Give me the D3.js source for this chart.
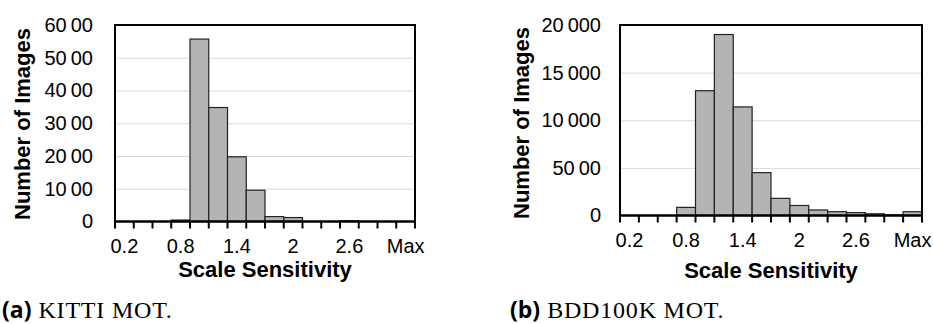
<!DOCTYPE html>
<html>
<head>
<meta charset="utf-8">
<script src="https://cdn.jsdelivr.net/npm/d3@7"></script>
<style>
  body { margin: 0; background: #fff; }
  svg { display: block; }
  .tick text { font-family: 'Liberation Sans', Arial, sans-serif; font-size: 20px; fill: #000; }
  .axis-title { font-family: 'Liberation Sans', Arial, sans-serif; font-size: 22px; font-weight: bold; }
  .caption { font-size: 24px; }
</style>
</head>
<body>
<div id="chart"></div>
<script>
const width = 933;
const height = 324;

// bins of scale sensitivity (shared by both panels)
const categories = ['0.2', '0.4', '0.6', '0.8', '1', '1.2', '1.4', '1.6', '1.8', '2', '2.2', '2.4', '2.6', '2.8', '3', 'Max'];
const shownLabels = ['0.2', '0.8', '1.4', '2', '2.6', 'Max'];

// number of images per bin
const kittiCounts = [0, 0, 0, 45, 5570, 3480, 1975, 955, 150, 120, 0, 0, 20, 0, 0, 0];
const bddCounts = [0, 0, 0, 850, 13100, 19000, 11400, 4500, 1800, 1050, 580, 400, 300, 180, 60, 400];

// y ticks and how they are printed in the figure
const kittiTicks = [0, 1000, 2000, 3000, 4000, 5000, 6000];
const kittiTickLabels = ['0', '10\u200900', '20\u200900', '30\u200900', '40\u200900', '50\u200900', '60\u200900'];
const bddTicks = [0, 5000, 10000, 15000, 20000];
const bddTickLabels = ['0', '50\u200900', '10\u2009000', '15\u2009000', '20\u2009000'];

const barColor = '#b4b4b4';
const gridColor = '#d9d9d9';

const svg = d3
  .select('#chart')
  .append('svg')
  .attr('width', width)
  .attr('height', height);

const drawPanel = (opts) => {
  const { left, right, top, bottom, counts, ticks, tickLabels, labelPad, yTitleX, yTitleY, xTitleY } = opts;
  const g = svg.append('g');

  const xScale = d3.scaleBand().domain(categories).range([left, right]).padding(0);
  const yScale = d3.scaleLinear().domain([0, d3.max(ticks)]).range([bottom, top]);

  // gridlines
  g.append('g')
    .attr('transform', `translate(${left},0)`)
    .call(d3.axisLeft(yScale).tickValues(ticks.slice(1, -1)).tickSize(-(right - left)).tickFormat(''))
    .call((s) => s.select('.domain').remove())
    .call((s) => s.selectAll('line').attr('stroke', gridColor).attr('stroke-width', 1));

  // bars
  g.append('g')
    .selectAll('rect')
    .data(counts)
    .enter()
    .append('rect')
    .attr('x', (d, i) => xScale(categories[i]))
    .attr('y', (d) => yScale(d))
    .attr('width', xScale.bandwidth())
    .attr('height', (d) => yScale(0) - yScale(d))
    .attr('fill', barColor)
    .attr('stroke', (d) => (d > 0 ? '#222' : 'none'))
    .attr('stroke-width', 1.2);

  // frame: left, top, right
  g.append('path')
    .attr('d', `M${left},${bottom}V${top}H${right}V${bottom}`)
    .attr('fill', 'none')
    .attr('stroke', '#000')
    .attr('stroke-width', 2);

  // y axis labels
  g.append('g')
    .attr('transform', `translate(${left},0)`)
    .call(
      d3.axisLeft(yScale)
        .tickValues(ticks)
        .tickSize(0)
        .tickPadding(labelPad)
        .tickFormat((d, i) => tickLabels[i])
    )
    .call((s) => s.select('.domain').remove());

  // x axis: labels centred on every third bin
  g.append('g')
    .attr('transform', `translate(0,${bottom})`)
    .call(
      d3.axisBottom(xScale)
        .tickValues(shownLabels)
        .tickSize(0)
        .tickPadding(17)
    )
    .call((s) => s.select('.domain').remove());

  // tick marks between bins
  const edges = categories.map((c) => xScale(c)).concat([right]);
  g.append('g')
    .selectAll('line')
    .data(edges)
    .enter()
    .append('line')
    .attr('x1', (d) => d)
    .attr('x2', (d) => d)
    .attr('y1', bottom)
    .attr('y2', bottom + 7)
    .attr('stroke', '#000')
    .attr('stroke-width', 2);

  g.append('line')
    .attr('x1', left - 1)
    .attr('x2', right + 1)
    .attr('y1', bottom)
    .attr('y2', bottom)
    .attr('stroke', '#000')
    .attr('stroke-width', 2.5);

  // titles
  g.append('text')
    .attr('class', 'axis-title')
    .attr('x', (left + right) / 2)
    .attr('y', xTitleY)
    .attr('text-anchor', 'middle')
    .text('Scale Sensitivity');

  g.append('text')
    .attr('class', 'axis-title')
    .attr('transform', `translate(${yTitleX},${yTitleY}) rotate(-90)`)
    .attr('text-anchor', 'middle')
    .text('Number of Images');
};

drawPanel({
  left: 115, right: 415, top: 25, bottom: 221.5,
  counts: kittiCounts, ticks: kittiTicks, tickLabels: kittiTickLabels, labelPad: 22,
  yTitleX: 30, yTitleY: 124, xTitleY: 277,
});

drawPanel({
  left: 620, right: 922, top: 25, bottom: 215.5,
  counts: bddCounts, ticks: bddTicks, tickLabels: bddTickLabels, labelPad: 19,
  yTitleX: 528.5, yTitleY: 123, xTitleY: 278,
});

// sub-figure captions
const captions = [
  { x: 2, tag: '(a)', text: 'KITTI MOT.' },
  { x: 510, tag: '(b)', text: 'BDD100K MOT.' },
];

captions.forEach((c) => {
  const t = svg.append('text')
    .attr('class', 'caption')
    .attr('x', c.x)
    .attr('y', 318);
  t.append('tspan')
    .attr('font-family', "'Open Sans', sans-serif")
    .attr('font-weight', 'bold')
    .attr('font-size', 23)
    .text(c.tag);
  t.append('tspan')
    .attr('font-family', "'Liberation Serif', serif")
    .attr('letter-spacing', 0.8)
    .attr('dx', 7)
    .text(c.text);
});
</script>
</body>
</html>
